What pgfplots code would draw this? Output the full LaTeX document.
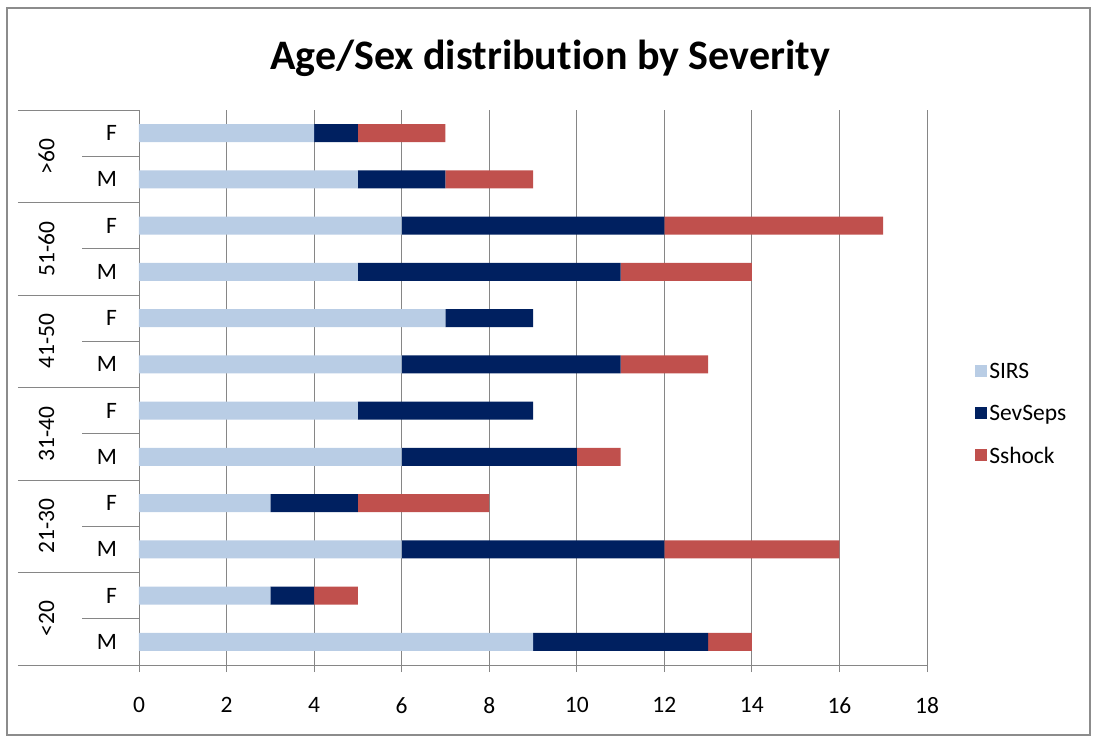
\documentclass[border=0pt]{standalone}
\usepackage{fontspec}
\setmainfont{Carlito}[Ligatures=NoCommon]
\usepackage{pgfplots}
\pgfplotsset{compat=1.18}

\definecolor{sirs}{RGB}{185,205,229}
\definecolor{sevseps}{RGB}{0,32,96}
\definecolor{sshock}{RGB}{192,80,77}
\definecolor{gridgray}{RGB}{134,134,134}
\definecolor{framegray}{RGB}{140,140,140}

\newcommand{\lblfont}{\fontsize{23.5}{27}\selectfont}

\begin{document}
\begin{tikzpicture}
\useasboundingbox (0pt,0pt) rectangle (1093pt,-739pt);
\draw[framegray, line width=1.5pt] (7pt,-8pt) rectangle (1090pt,-735pt);
\node[font=\fontsize{42}{48}\selectfont\bfseries] at (550pt,-58pt) {Age/Sex distribution by Severity};

\begin{axis}[
  at={(139pt,-665pt)}, anchor=south west,
  scale only axis, width=788pt, height=555pt,
  xmin=0, xmax=18, ymin=0.5, ymax=12.5,
  xbar stacked, bar width=18pt,
  xtick={0,2,...,18}, ytick=\empty,
  xmajorgrids, grid style={gridgray, line width=0.8pt},
  axis lines*=left,
  axis line style={gridgray, line width=0.8pt, -},
  tick align=outside, major tick length=7pt,
  xtick style={gridgray, line width=0.8pt},
  /pgf/number format/assume math mode=true,
  xticklabel style={font=\lblfont, inner sep=0pt, anchor=north, yshift=-25pt},
  clip=false,
  legend cell align=left,
  legend style={draw=none, fill=none, at={(1.061,0.452)}, anchor=west,
    font=\lblfont, row sep=21pt, inner sep=0pt,
    /tikz/every even column/.append style={column sep=4pt}},
  legend image code/.code={\fill[#1] (0pt,-5pt) rectangle (12pt,7pt);},
]
% rows from bottom: <20 M, <20 F, 21-30 M, 21-30 F, ..., >60 M, >60 F
\addplot[fill=sirs, draw=none] coordinates
  {(9,1) (3,2) (6,3) (3,4) (6,5) (5,6) (6,7) (7,8) (5,9) (6,10) (5,11) (4,12)};
\addlegendentry{SIRS}
\addplot[fill=sevseps, draw=none] coordinates
  {(4,1) (1,2) (6,3) (2,4) (4,5) (4,6) (5,7) (2,8) (6,9) (6,10) (2,11) (1,12)};
\addlegendentry{SevSeps}
\addplot[fill=sshock, draw=none] coordinates
  {(1,1) (1,2) (4,3) (3,4) (1,5) (0,6) (2,7) (0,8) (3,9) (5,10) (2,11) (2,12)};
\addlegendentry{Sshock}

% category separators
\pgfplotsinvokeforeach{0.5,2.5,4.5,6.5,8.5,10.5,12.5}{
  \draw[gridgray, line width=0.8pt] (axis cs:-2.764,#1) -- (axis cs:0,#1);
}
\pgfplotsinvokeforeach{1.5,3.5,5.5,7.5,9.5,11.5}{
  \draw[gridgray, line width=0.8pt] (axis cs:-1.30,#1) -- (axis cs:0,#1);
}
% sex labels
\pgfplotsinvokeforeach{1,3,5,7,9,11}{
  \node[font=\lblfont, anchor=east, inner sep=0pt] at (axis cs:-0.50,#1) {M};
}
\pgfplotsinvokeforeach{2,4,6,8,10,12}{
  \node[font=\lblfont, anchor=east, inner sep=0pt] at (axis cs:-0.50,#1) {F};
}
% age group labels
\node[font=\lblfont, rotate=90] at (axis cs:-2.11,1.5) {<20};
\node[font=\lblfont, rotate=90] at (axis cs:-2.11,3.5) {21-30};
\node[font=\lblfont, rotate=90] at (axis cs:-2.11,5.5) {31-40};
\node[font=\lblfont, rotate=90] at (axis cs:-2.11,7.5) {41-50};
\node[font=\lblfont, rotate=90] at (axis cs:-2.11,9.5) {51-60};
\node[font=\lblfont, rotate=90] at (axis cs:-2.11,11.5) {>60};
\end{axis}
\end{tikzpicture}
\end{document}
